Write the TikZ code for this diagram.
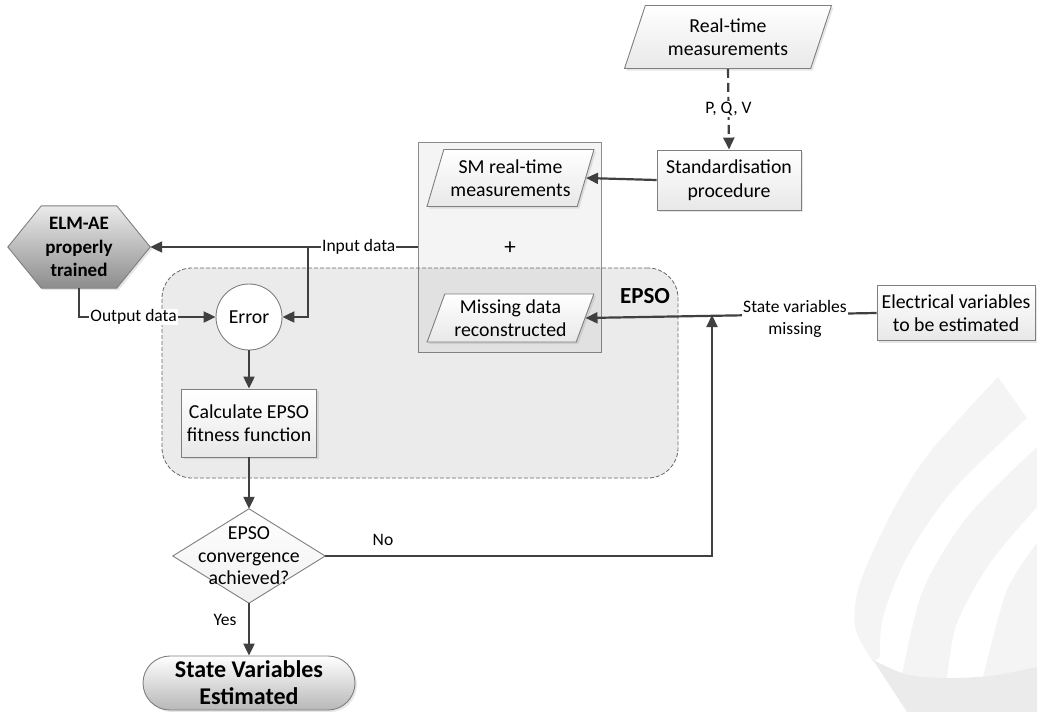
\documentclass[tikz,border=0pt]{standalone}
\usepackage{fontspec}
\setmainfont{Carlito}
\usetikzlibrary{arrows.meta,shapes.geometric,shadows,calc}
\pgfdeclarelayer{background}
\pgfsetlayers{background,main}
\definecolor{linec}{HTML}{404040}
\definecolor{edgec}{HTML}{7F7F7F}
\definecolor{wmark}{HTML}{F4F4F4}
\definecolor{wmarkd}{HTML}{EBEBEB}

\begin{document}
\begin{tikzpicture}[x=1pt,y=-1pt,
  every node/.style={font=\fontsize{19.8}{23.5}\selectfont, align=center, inner sep=0pt},
  lab/.style={font=\fontsize{17.5}{22}\selectfont, fill=white, inner sep=1pt},
  softshadow/.style={drop shadow={shadow xshift=2pt, shadow yshift=-2pt, opacity=0.2}},
  procbox/.style={rectangle, draw=edgec, line width=0.9pt, top color=white, bottom color=black!9, softshadow},
  iobox/.style={trapezium, trapezium left angle=68, trapezium right angle=112,
    trapezium stretches=true, draw=edgec, line width=0.9pt, top color=white, bottom color=black!9, softshadow},
  conn/.style={draw=linec, line width=2.2pt, -{Triangle[length=12pt,width=11pt]}},
]
\useasboundingbox (0,0) rectangle (1037,712);

% faint logo in the lower right corner
\begin{pgfonlayer}{background}
\fill[wmark] plot[smooth] coordinates {(998,377) (930,452) (893,510) (860,583) (855,627) (873,662)}
  -- plot[smooth] coordinates {(880,657) (883,617) (907,557) (953,490) (1027,418)} -- cycle;
\fill[wmark] plot[smooth] coordinates {(1037,447) (967,517) (923,590) (903,670) (900,690)}
  -- plot[smooth] coordinates {(945,690) (947,677) (957,623) (990,563) (1037,507)} -- cycle;
\fill[wmark] plot[smooth] coordinates {(1037,543) (1007,590) (983,677) (981,690)} -- (1037,690) -- cycle;
\fill[wmarkd] plot[smooth] coordinates {(873,660) (905,674) (940,678) (990,676) (1037,667)}
  -- (1037,712) -- (907,712) -- cycle;
\end{pgfonlayer}

% container of the two data sources and the EPSO region
\node[rectangle, minimum width=183pt, minimum height=210pt, draw=black!45, line width=0.9pt,
  fill=black, fill opacity=0.045] (grp) at (509.5,247) {};
\node[rectangle, minimum width=516pt, minimum height=210pt, rounded corners=30pt,
  draw=black!60, line width=0.8pt, dash pattern=on 4pt off 2pt,
  fill=black, fill opacity=0.08] (epso) at (420,373) {};
\node[font=\bfseries\fontsize{23}{27}\selectfont] (epsol) at (645,296) {EPSO};

% process nodes
\node[iobox, minimum width=207pt, minimum height=63pt] (rt) at (728,37) {Real-time\\measurements};
\node[procbox, minimum width=144pt, minimum height=60pt] (std) at (729,180) {Standardisation\\procedure};
\node[iobox, minimum width=167pt, minimum height=57pt] (sm) at (510.5,178) {SM real-time\\measurements};
\node[font=\fontsize{23}{27}\selectfont] (plus) at (510,248) {+};
\node[iobox, minimum width=167pt, minimum height=48pt] (md) at (510.5,318) {Missing data\\reconstructed};
\node[procbox, minimum width=158pt, minimum height=55pt] (ev) at (956,313) {Electrical variables\\to be estimated};
\node[minimum width=142pt, minimum height=82pt, font=\bfseries\fontsize{19}{23.5}\selectfont] (elm) at (79,247) {ELM-AE\\properly\\trained};
\node[circle, draw=edgec, fill=white, minimum size=66pt, line width=0.9pt] (err) at (249,317) {Error};
\node[procbox, minimum width=135pt, minimum height=68pt] (calc) at (249,423) {Calculate EPSO\\fitness function};
\node[minimum width=152pt, minimum height=94pt, font=\fontsize{19.8}{22.5}\selectfont] (dec) at (249,556) {EPSO\\convergence\\achieved?};
\node[rectangle, rounded corners=27pt, minimum width=212pt, minimum height=54pt, draw=edgec,
  line width=0.9pt, top color=white, bottom color=black!28, softshadow,
  font=\bfseries\fontsize{24}{27}\selectfont] (term) at (249,683) {State Variables\\Estimated};

% hexagon and diamond outlines behind their texts
\begin{pgfonlayer}{background}
\shade[top color=black!8, bottom color=black!45, draw=edgec, line width=0.9pt, softshadow]
  (elm.west) -- ($(elm.north west)+(33.5,0)$) -- ($(elm.north east)+(-33.5,0)$) -- (elm.east)
  -- ($(elm.south east)+(-33.5,0)$) -- ($(elm.south west)+(33.5,0)$) -- cycle;
\shade[top color=white, bottom color=black!6, draw=edgec, line width=0.9pt]
  (dec.north) -- (dec.east) -- (dec.south) -- (dec.west) -- cycle;
\end{pgfonlayer}

% connectors
\draw[conn, dash pattern=on 9pt off 5pt] (rt.south) -- node[lab]{P, Q, V} (std.north);
\draw[conn] (std.west) -- (sm.east);
\coordinate (jin) at (308,247);
\draw[conn] (grp.west) -- node[lab, pos=0.22]{Input data} (elm.east);
\draw[conn] (jin) |- (err.east);
\draw[conn] (elm.south) |- node[lab, pos=0.7]{Output data} (err.west);
\draw[conn] (err.south) -- (calc.north);
\draw[conn] (calc.south) -- (dec.north);
\coordinate (jsv) at (712,315);
\draw[conn] (dec.east) -| (jsv);
\draw[conn] (ev.west) -- (md.east);
\node[lab] (svl) at (795,319) {State variables\\missing};
\draw[conn] (dec.south) -- (term.north);
\node[font=\fontsize{17.5}{22}\selectfont] (yes) at (225,620) {Yes};
\node[font=\fontsize{17.5}{22}\selectfont] (no) at (383,540) {No};
\end{tikzpicture}
\end{document}
